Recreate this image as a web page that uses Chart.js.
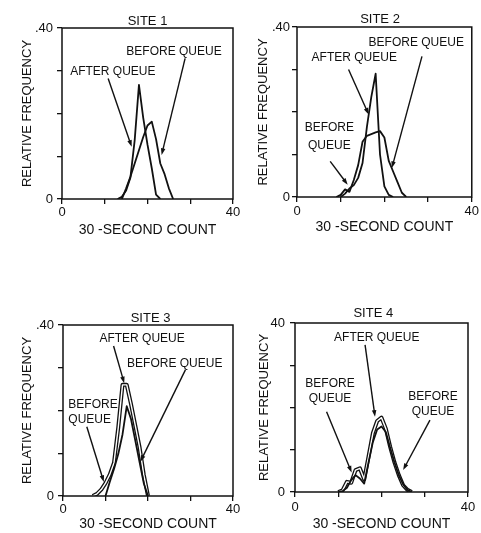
<!DOCTYPE html>
<html>
<head>
<meta charset="utf-8">
<title>Relative frequency of 30-second counts, before and after queue</title>
<script src="https://cdn.jsdelivr.net/npm/chart.js@4.4.1/dist/chart.umd.min.js"></script>
<style>
  html, body { margin: 0; padding: 0; background: #fff; }
  #page { position: relative; width: 481px; height: 533px; overflow: hidden; background: #fff; }
  #page canvas { position: absolute; }
</style>
</head>
<body>
<div id="page">
  <canvas id="site1" width="245" height="245" style="left:0px;top:0px"></canvas>
  <canvas id="site2" width="241" height="245" style="left:240px;top:0px"></canvas>
  <canvas id="site3" width="245" height="243" style="left:0px;top:290px"></canvas>
  <canvas id="site4" width="241" height="243" style="left:240px;top:290px"></canvas>
</div>
<script>
// ===================================
// DATA
// ===================================

// tick labels, shared by the panels
const xTickLabels = ['0', '', '', '', '40'];
const yTickLabelsDot = ['0', '', '', '', '.40'];
const yTickLabelsPlain = ['0', '', '', '', '40'];

// SITE 1
const site1BeforeX = [14, 15, 16, 17, 18, 19, 20, 21, 22, 23, 24, 25, 26];
const site1BeforeY = [0, 0.025, 0.052, 0.083, 0.114, 0.145, 0.172, 0.181, 0.14, 0.083, 0.058, 0.025, 0];
const site1AfterX = [13, 14, 15, 16, 17, 18, 19, 20, 21, 22, 23];
const site1AfterY = [0, 0.005, 0.02, 0.05, 0.137, 0.267, 0.19, 0.127, 0.072, 0.01, 0];

// SITE 2
const site2BeforeX = [9, 10, 11, 12, 13, 14, 15, 16, 17, 18, 19, 20, 21, 22, 23, 24, 25];
const site2BeforeY = [0, 0.005, 0.018, 0.012, 0.04, 0.075, 0.13, 0.144, 0.148, 0.152, 0.155, 0.14, 0.085, 0.06, 0.035, 0.01, 0];
const site2AfterX = [10, 11, 12, 13, 14, 15, 16, 17, 18, 19, 20, 21, 22];
const site2AfterY = [0, 0.008, 0.02, 0.028, 0.045, 0.08, 0.165, 0.235, 0.29, 0.1, 0.025, 0.005, 0];

// SITE 3
const site3BeforeX = [10, 11, 12, 13, 14, 15, 16, 17, 18, 19, 20];
const site3BeforeY = [0, 0.033, 0.063, 0.098, 0.144, 0.21, 0.18, 0.13, 0.08, 0.03, 0];
const site3AfterX = [7, 8, 9, 10, 11, 12, 13, 14, 15, 16, 17, 18, 19, 20];
const site3AfterY = [0, 0.005, 0.015, 0.03, 0.05, 0.078, 0.16, 0.26, 0.26, 0.215, 0.165, 0.115, 0.05, 0];

// SITE 4
const site4BeforeX = [10, 11, 12, 13, 14, 15, 16, 17, 18, 19, 20, 21, 22, 23, 24, 25, 26, 27];
const site4BeforeY = [0, 0.002, 0.01, 0.028, 0.04, 0.032, 0.02, 0.07, 0.118, 0.148, 0.155, 0.142, 0.105, 0.07, 0.04, 0.018, 0.005, 0];
const site4AfterX = [10, 11, 12, 13, 14, 15, 16, 17, 18, 19, 20, 21, 22, 23, 24, 25, 26, 27];
const site4AfterY = [0, 0.004, 0.024, 0.022, 0.052, 0.056, 0.03, 0.084, 0.139, 0.168, 0.176, 0.15, 0.107, 0.07, 0.04, 0.016, 0.005, 0];

// ===================================
// STYLE
// ===================================

const INK = '#111111';
const FONT = "'Liberation Sans', Arial, Helvetica, sans-serif";

// callouts: text anchor and arrow [fromX, fromY, toX, toY], in data units
const PANELS = [
  {
    id: 'site1', title: 'SITE 1', titleX: 20, titleLift: 3,
    before: [site1BeforeX, site1BeforeY], after: [site1AfterX, site1AfterY], hollowAfter: false,
    yLabels: yTickLabelsDot,
    pad: { left: 12, top: 28, right: 12, bottom: 6 }, yWidth: 50, xHeight: 40,
    yTitlePad: 8, yTickPad: 4, xTickPad: 1,
    labels: [
      { lines: ['AFTER QUEUE'], x: 11.9, y: 0.297, align: 'center' },
      { lines: ['BEFORE QUEUE'], x: 26.2, y: 0.344, align: 'center' }
    ],
    arrows: [[10.8, 0.282, 16.3, 0.122], [28.8, 0.329, 23.3, 0.103]]
  },
  {
    id: 'site2', title: 'SITE 2', titleX: 19.0, titleLift: 4,
    before: [site2BeforeX, site2BeforeY], after: [site2AfterX, site2AfterY], hollowAfter: false,
    yLabels: yTickLabelsDot,
    pad: { left: 12, top: 27, right: 9, bottom: 9 }, yWidth: 45, xHeight: 39,
    yTitlePad: 4, yTickPad: 2, xTickPad: 2,
    labels: [
      { lines: ['BEFORE QUEUE'], x: 27.3, y: 0.362, align: 'center' },
      { lines: ['AFTER QUEUE'], x: 13.1, y: 0.328, align: 'center' },
      { lines: ['BEFORE', 'QUEUE'], x: 7.4, y: 0.162, align: 'center', gap: 18 }
    ],
    arrows: [[28.6, 0.331, 21.7, 0.068], [11.8, 0.30, 16.4, 0.194], [7.6, 0.084, 11.6, 0.029]]
  },
  {
    id: 'site3', title: 'SITE 3', titleX: 20.6, titleLift: 3,
    before: [site3BeforeX, site3BeforeY], after: [site3AfterX, site3AfterY], hollowAfter: true,
    yLabels: yTickLabelsDot,
    pad: { left: 13, top: 35, right: 12, bottom: 0 }, yWidth: 50, xHeight: 37,
    yTitlePad: 7, yTickPad: 4, xTickPad: 1,
    labels: [
      { lines: ['AFTER QUEUE'], x: 18.6, y: 0.367, align: 'center' },
      { lines: ['BEFORE QUEUE'], x: 26.3, y: 0.31, align: 'center' },
      { lines: ['BEFORE', 'QUEUE'], x: 1.25, y: 0.213, align: 'left', gap: 15 }
    ],
    arrows: [[11.9, 0.351, 14.4, 0.264], [28.8, 0.295, 18.2, 0.08], [5.6, 0.162, 9.6, 0.033]]
  },
  {
    id: 'site4', title: 'SITE 4', titleX: 18.1, titleLift: 6,
    before: [site4BeforeX, site4BeforeY], after: [site4AfterX, site4AfterY], hollowAfter: true,
    yLabels: yTickLabelsPlain,
    pad: { left: 10, top: 33, right: 13, bottom: 0 }, yWidth: 45, xHeight: 41,
    yTitlePad: 7, yTickPad: 5, xTickPad: 3,
    labels: [
      { lines: ['AFTER QUEUE'], x: 18.9, y: 0.366, align: 'center' },
      { lines: ['BEFORE', 'QUEUE'], x: 8.1, y: 0.257, align: 'center', gap: 15 },
      { lines: ['BEFORE', 'QUEUE'], x: 31.9, y: 0.226, align: 'center', gap: 15 }
    ],
    arrows: [[16.2, 0.348, 18.5, 0.178], [7.3, 0.19, 13.1, 0.046], [31.2, 0.17, 25.0, 0.052]]
  }
];

function toPoints(xs, ys) {
  return xs.map((x, i) => ({ x: x, y: ys[i] }));
}

function drawArrow(ctx, x1, y1, x2, y2) {
  const ang = Math.atan2(y2 - y1, x2 - x1);
  const head = 7;
  const spread = 0.33;
  ctx.beginPath();
  ctx.moveTo(x1, y1);
  ctx.lineTo(x2 - Math.cos(ang) * head * 0.7, y2 - Math.sin(ang) * head * 0.7);
  ctx.stroke();
  ctx.beginPath();
  ctx.moveTo(x2, y2);
  ctx.lineTo(x2 - head * Math.cos(ang - spread), y2 - head * Math.sin(ang - spread));
  ctx.lineTo(x2 - head * Math.cos(ang + spread), y2 - head * Math.sin(ang + spread));
  ctx.closePath();
  ctx.fill();
}

// frame, panel title and the queue callouts
const panelDecor = {
  id: 'panelDecor',
  afterDraw(chart, args, opts) {
    const { ctx, chartArea: a, scales } = chart;
    const sx = scales.x, sy = scales.y;
    ctx.save();
    ctx.strokeStyle = INK;
    ctx.fillStyle = INK;
    ctx.lineWidth = 1.5;
    ctx.strokeRect(a.left, a.top, a.right - a.left, a.bottom - a.top);

    ctx.font = '13px ' + FONT;
    ctx.textAlign = 'center';
    ctx.textBaseline = 'alphabetic';
    ctx.fillText(opts.title, sx.getPixelForValue(opts.titleX), a.top - opts.titleLift);

    ctx.font = '12px ' + FONT;
    ctx.textBaseline = 'middle';
    opts.labels.forEach(l => {
      ctx.textAlign = l.align;
      const px = sx.getPixelForValue(l.x);
      const py = sy.getPixelForValue(l.y);
      l.lines.forEach((t, i) => ctx.fillText(t, px, py + i * (l.gap || 0)));
    });

    ctx.lineWidth = 1.4;
    opts.arrows.forEach(ar => {
      drawArrow(ctx,
        sx.getPixelForValue(ar[0]), sy.getPixelForValue(ar[1]),
        sx.getPixelForValue(ar[2]), sy.getPixelForValue(ar[3]));
    });
    ctx.restore();
  }
};

function makePanel(p) {
  const datasets = [
    {
      label: 'Before queue',
      data: toPoints(p.before[0], p.before[1]),
      borderColor: INK, borderWidth: 1.8, order: 0
    },
    {
      label: 'After queue',
      data: toPoints(p.after[0], p.after[1]),
      borderColor: INK, borderWidth: p.hollowAfter ? 4 : 1.8, order: 2
    }
  ];
  if (p.hollowAfter) {
    // white core on top of the thick line gives the outlined stroke of the original
    datasets.push({
      label: 'After queue (core)',
      data: toPoints(p.after[0], p.after[1]),
      borderColor: '#ffffff', borderWidth: 1.4, order: 1
    });
  }

  new Chart(document.getElementById(p.id), {
    type: 'line',
    data: { datasets: datasets },
    options: {
      responsive: false,
      animation: false,
      devicePixelRatio: 1,
      layout: { padding: p.pad },
      elements: {
        point: { radius: 0, hoverRadius: 0 },
        line: { tension: 0, fill: false, borderJoinStyle: 'round' }
      },
      plugins: {
        legend: { display: false },
        title: { display: false },
        tooltip: { enabled: false },
        panelDecor: {
          title: p.title, titleX: p.titleX, titleLift: p.titleLift,
          labels: p.labels, arrows: p.arrows
        }
      },
      scales: {
        x: {
          type: 'linear',
          min: 0, max: 40,
          afterFit: s => { s.height = p.xHeight; },
          border: { display: false },
          grid: { drawOnChartArea: false, drawTicks: true, tickLength: 5, color: INK, lineWidth: 1.3 },
          ticks: {
            stepSize: 10, autoSkip: false, maxRotation: 0, padding: p.xTickPad,
            color: INK, font: { family: FONT, size: 13 },
            callback: (v, i) => xTickLabels[i]
          },
          title: {
            display: true, text: '30 -SECOND COUNT', color: INK,
            font: { family: FONT, size: 14 }, padding: { top: 0, bottom: 0 }
          }
        },
        y: {
          type: 'linear',
          min: 0, max: 0.4,
          afterFit: s => { s.width = p.yWidth; },
          border: { display: false },
          grid: { drawOnChartArea: false, drawTicks: true, tickLength: 5, color: INK, lineWidth: 1.3 },
          ticks: {
            stepSize: 0.1, autoSkip: false, padding: p.yTickPad,
            color: INK, font: { family: FONT, size: 13 },
            callback: (v, i) => p.yLabels[i]
          },
          title: {
            display: true, text: 'RELATIVE FREQUENCY', color: INK,
            font: { family: FONT, size: 13 }, padding: { top: p.yTitlePad, bottom: 0 }
          }
        }
      }
    },
    plugins: [panelDecor]
  });
}

PANELS.forEach(makePanel);
</script>
</body>
</html>
